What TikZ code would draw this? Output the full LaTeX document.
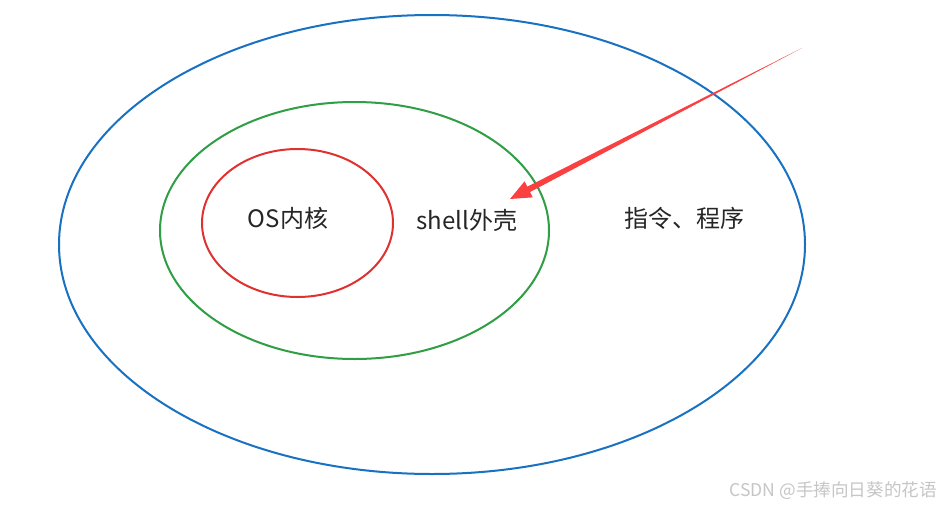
\documentclass[tikz,border=0pt]{standalone}
\usepackage{fontspec}
\newfontfamily\cjk{Noto Sans CJK SC}
\usepackage{xcolor}
\usetikzlibrary{calc,shapes.geometric}

\definecolor{ringblue}{HTML}{1971C2}
\definecolor{ringgreen}{HTML}{2F9E44}
\definecolor{ringred}{HTML}{E03131}
\definecolor{arrowred}{HTML}{FA4040}

\begin{document}
\begin{tikzpicture}[
        x=1pt, y=-1pt,
        ring/.style={ellipse, draw, line width=2pt, inner sep=0pt, outer sep=0pt},
        ringtext/.style={font=\cjk\fontsize{24}{28}\selectfont, text=black!85, inner sep=0pt},
        credittext/.style={font=\cjk\fontsize{17.6}{20}\selectfont, text=gray!45, inner sep=0pt}
    ]
        \useasboundingbox[fill=white] (0,0) rectangle (941,506);

        % three nested rings
        \node[ring, draw=ringblue, minimum width=746pt, minimum height=459pt] (outer) at (432,244.5) {};
        \node[ring, draw=ringgreen, minimum width=389pt, minimum height=257pt] (shellring) at (354.5,230.5) {};
        \node[ring, draw=ringred, minimum width=191pt, minimum height=148pt] (kernel) at (297.5,223) {};

        \node[ringtext] (kerneltext) at (288,218) {OS内核};
        \node[ringtext] (shelltext) at (467,220) {shell外壳};
        \node[ringtext] (progtext) at (684,218) {指令、程序};

        % tapered arrow pointing at the shell
        \coordinate (src) at (802,48);
        \coordinate (tip) at (510,199);
        \coordinate (base) at ($(tip)!21pt!(src)$);
        \fill[arrowred] (src) -- ($(base)!3pt!90:(src)$) -- ($(base)!9pt!90:(src)$) -- (tip)
            -- ($(base)!9pt!-90:(src)$) -- ($(base)!3pt!-90:(src)$) -- cycle;

        \node[credittext, anchor=east] (credit) at (937,491) {CSDN @手捧向日葵的花语};
    \end{tikzpicture}
\end{document}
